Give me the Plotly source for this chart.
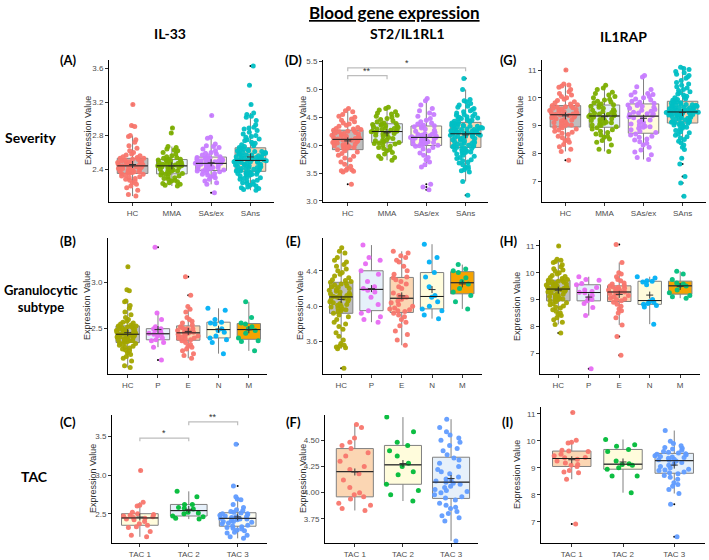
import numpy as np
import plotly.graph_objects as go

# The page body margin is removed (post_script below), so figure == window (709x560)
W, H = 709, 560


def fx(px):
    return px / W


def fy(py):
    return 1 - py / H


# ---------------- categories / colours ----------------
sev_cats = ["HC", "MMA", "SAs/ex", "SAns"]
gran_cats = ["HC", "P", "E", "N", "M"]
tac_cats = ["TAC 1", "TAC 2", "TAC 3"]

sev_colors = ["#F8766D", "#7CAE00", "#C77CFF", "#00BFC4"]
sev_fills = ["#BEBEBE", "#E6F0FA", "#FFFCDC", "#FBD6B3"]
gran_colors = ["#A3A500", "#E76BF3", "#F8766D", "#00B0F6", "#00BF7D"]
gran_fills = ["#BEBEBE", "#E6F0FA", "#FBD6B3", "#FFFCDC", "#F5A300"]
tac_colors = ["#F8766D", "#00BA38", "#619CFF"]
tac_fills_c = ["#FFFCDC", "#E6F0FA", "#FCFCF2"]
tac_fills = ["#FBD6B3", "#FFFCDC", "#E6F0FA"]

# ---------------- IL-33, severity ----------------
il33_hc = [3.17, 2.92, 2.91, 2.80, 2.79, 2.75, 2.72, 2.68, 2.65, 2.62, 2.60, 2.58, 2.57, 2.56, 2.55, 2.54, 2.53, 2.53,
           2.52, 2.52, 2.51, 2.50, 2.50, 2.49, 2.49, 2.48, 2.48, 2.47, 2.47, 2.46, 2.46, 2.45, 2.45, 2.45, 2.44, 2.44,
           2.43, 2.43, 2.42, 2.42, 2.41, 2.41, 2.40, 2.40, 2.39, 2.39, 2.38, 2.38, 2.37, 2.37, 2.36, 2.36, 2.35, 2.35,
           2.34, 2.33, 2.32, 2.31, 2.30, 2.29, 2.28, 2.27, 2.26, 2.24, 2.22, 2.20, 2.18, 2.15, 2.10, 2.08]
il33_mma = [2.89, 2.83, 2.67, 2.66, 2.64, 2.63, 2.62, 2.60, 2.58, 2.56, 2.55, 2.54, 2.53, 2.52, 2.52, 2.51, 2.51, 2.50,
            2.50, 2.49, 2.48, 2.48, 2.47, 2.47, 2.46, 2.46, 2.45, 2.45, 2.44, 2.44, 2.44, 2.43, 2.43, 2.42, 2.42, 2.41,
            2.40, 2.40, 2.39, 2.38, 2.38, 2.37, 2.36, 2.35, 2.35, 2.34, 2.33, 2.32, 2.31, 2.30, 2.29, 2.28, 2.27, 2.26,
            2.25, 2.24, 2.23, 2.22, 2.21, 2.20]
il33_sasex = [3.04, 2.78, 2.77, 2.70, 2.68, 2.67, 2.66, 2.64, 2.62, 2.60, 2.59, 2.58, 2.57, 2.56, 2.55, 2.54, 2.54, 2.53,
              2.53, 2.52, 2.52, 2.51, 2.51, 2.50, 2.50, 2.49, 2.49, 2.48, 2.48, 2.47, 2.47, 2.46, 2.46, 2.45, 2.45, 2.44,
              2.43, 2.43, 2.42, 2.42, 2.41, 2.40, 2.40, 2.39, 2.39, 2.38, 2.38, 2.37, 2.36, 2.35, 2.34, 2.33, 2.32, 2.31,
              2.30, 2.28, 2.26, 2.24, 2.22, 2.12]
il33_sans = [3.63, 3.40, 3.17, 3.07, 3.05, 3.03, 3.02, 2.98, 2.93, 2.90, 2.89, 2.88, 2.86, 2.84, 2.82, 2.80, 2.79, 2.78,
             2.76, 2.75, 2.74, 2.72, 2.71, 2.70, 2.69, 2.68, 2.67, 2.66, 2.65, 2.64, 2.63, 2.63, 2.62, 2.62, 2.61, 2.61,
             2.60, 2.60, 2.59, 2.59, 2.58, 2.58, 2.57, 2.57, 2.56, 2.56, 2.55, 2.55, 2.54, 2.54, 2.53, 2.53, 2.52, 2.52,
             2.51, 2.51, 2.50, 2.50, 2.50, 2.49, 2.49, 2.49, 2.48, 2.48, 2.47, 2.47, 2.46, 2.46, 2.45, 2.45, 2.44, 2.44,
             2.43, 2.43, 2.42, 2.42, 2.41, 2.41, 2.40, 2.40, 2.39, 2.39, 2.38, 2.38, 2.37, 2.37, 2.36, 2.36, 2.35, 2.35,
             2.34, 2.34, 2.33, 2.33, 2.32, 2.31, 2.30, 2.29, 2.28, 2.27, 2.26, 2.25, 2.24, 2.23, 2.22, 2.21, 2.20, 2.19,
             2.18, 2.17, 2.16, 2.15]

# ---------------- ST2/IL1RL1, severity ----------------
st2_hc = [4.66, 4.62, 4.60, 4.55, 4.52, 4.50, 4.47, 4.45, 4.42, 4.40, 4.38, 4.36, 4.34, 4.32, 4.30, 4.29, 4.28, 4.27,
          4.26, 4.25, 4.24, 4.23, 4.22, 4.21, 4.20, 4.19, 4.18, 4.17, 4.16, 4.15, 4.14, 4.13, 4.12, 4.12, 4.11, 4.10,
          4.09, 4.08, 4.07, 4.06, 4.05, 4.04, 4.03, 4.02, 4.01, 4.00, 3.99, 3.98, 3.97, 3.96, 3.95, 3.94, 3.92, 3.90,
          3.88, 3.85, 3.82, 3.80, 3.77, 3.74, 3.70, 3.66, 3.62, 3.58, 3.56, 3.55, 3.54, 3.53, 3.52, 3.30]
st2_mma = [4.68, 4.66, 4.63, 4.60, 4.58, 4.56, 4.54, 4.52, 4.50, 4.48, 4.46, 4.44, 4.42, 4.40, 4.39, 4.38, 4.37, 4.36,
           4.35, 4.34, 4.33, 4.32, 4.31, 4.30, 4.29, 4.28, 4.27, 4.26, 4.25, 4.25, 4.24, 4.23, 4.22, 4.21, 4.20, 4.19,
           4.18, 4.16, 4.14, 4.12, 4.10, 4.09, 4.08, 4.06, 4.05, 4.04, 4.03, 4.02, 4.00, 3.98, 3.96, 3.94, 3.92, 3.90,
           3.87, 3.84, 3.80, 3.78, 3.76, 3.73]
st2_sasex = [4.84, 4.80, 4.72, 4.66, 4.62, 4.58, 4.55, 4.52, 4.48, 4.45, 4.42, 4.40, 4.38, 4.36, 4.35, 4.34, 4.33, 4.31,
             4.29, 4.27, 4.25, 4.23, 4.21, 4.20, 4.19, 4.18, 4.17, 4.16, 4.15, 4.14, 4.14, 4.13, 4.12, 4.11, 4.10, 4.09,
             4.08, 4.07, 4.06, 4.05, 4.04, 4.03, 4.02, 4.01, 4.00, 3.99, 3.98, 3.96, 3.93, 3.90, 3.86, 3.82, 3.78, 3.74,
             3.70, 3.65, 3.61, 3.30, 3.25, 3.20]
st2_sans = [5.20, 5.00, 4.82, 4.80, 4.78, 4.75, 4.72, 4.70, 4.68, 4.66, 4.64, 4.62, 4.60, 4.58, 4.56, 4.55, 4.54, 4.52,
            4.51, 4.50, 4.49, 4.48, 4.47, 4.46, 4.45, 4.44, 4.43, 4.42, 4.41, 4.40, 4.39, 4.38, 4.37, 4.36, 4.36, 4.35,
            4.34, 4.34, 4.33, 4.32, 4.32, 4.31, 4.30, 4.30, 4.29, 4.28, 4.28, 4.27, 4.26, 4.26, 4.25, 4.24, 4.24, 4.23,
            4.22, 4.22, 4.21, 4.20, 4.20, 4.19, 4.18, 4.18, 4.17, 4.16, 4.16, 4.15, 4.14, 4.13, 4.12, 4.11, 4.10, 4.09,
            4.08, 4.07, 4.06, 4.05, 4.04, 4.03, 4.02, 4.01, 4.00, 3.99, 3.99, 3.98, 3.97, 3.96, 3.95, 3.94, 3.93, 3.92,
            3.91, 3.90, 3.89, 3.88, 3.87, 3.86, 3.84, 3.82, 3.80, 3.78, 3.76, 3.74, 3.72, 3.70, 3.68, 3.65, 3.62, 3.60,
            3.58, 3.56, 3.54, 3.52, 3.35, 3.10]
st2_sig_pairs = [(0, 1), (0, 3)]
st2_sig_y = [5.25, 5.39]
st2_sig_lbl = ["**", "*"]

# ---------------- IL1RAP, severity ----------------
rap_hc = [11.00, 10.50, 10.46, 10.42, 10.38, 10.30, 10.22, 10.15, 10.10, 10.05, 10.00, 9.95, 9.90, 9.86, 9.82, 9.78,
          9.75, 9.72, 9.70, 9.68, 9.66, 9.64, 9.62, 9.60, 9.58, 9.56, 9.54, 9.52, 9.50, 9.48, 9.46, 9.44, 9.43, 9.42,
          9.40, 9.38, 9.36, 9.34, 9.32, 9.30, 9.28, 9.25, 9.22, 9.20, 9.17, 9.14, 9.11, 9.08, 9.05, 9.02, 9.00, 8.98,
          8.95, 8.92, 8.88, 8.84, 8.80, 8.76, 8.72, 8.68, 8.62, 8.56, 8.50, 8.45, 8.40, 8.32, 8.24, 8.15, 8.07, 7.75]
rap_mma = [10.45, 10.35, 10.30, 10.20, 10.15, 10.10, 10.05, 10.00, 9.95, 9.92, 9.88, 9.85, 9.82, 9.78, 9.75, 9.73,
           9.70, 9.66, 9.62, 9.58, 9.55, 9.52, 9.50, 9.47, 9.44, 9.42, 9.40, 9.38, 9.38, 9.36, 9.33, 9.30, 9.28, 9.25,
           9.22, 9.20, 9.18, 9.15, 9.12, 9.10, 9.08, 9.05, 9.02, 9.00, 8.96, 8.92, 8.88, 8.85, 8.80, 8.75, 8.70, 8.66,
           8.62, 8.58, 8.52, 8.46, 8.40, 8.30, 8.15, 8.07]
rap_sasex = [10.80, 10.75, 10.40, 10.30, 10.20, 10.15, 10.12, 10.10, 10.05, 10.00, 9.96, 9.92, 9.88, 9.84, 9.80, 9.76,
             9.74, 9.72, 9.70, 9.66, 9.62, 9.58, 9.55, 9.52, 9.48, 9.45, 9.43, 9.42, 9.40, 9.36, 9.32, 9.28, 9.24, 9.20,
             9.15, 9.10, 9.06, 9.02, 8.98, 8.96, 8.94, 8.90, 8.85, 8.80, 8.75, 8.70, 8.66, 8.62, 8.58, 8.52, 8.48, 8.42,
             8.36, 8.30, 8.22, 8.12, 8.05, 7.95, 7.85, 7.78]
rap_sans = [11.10, 11.05, 11.02, 10.95, 10.90, 10.85, 10.80, 10.75, 10.70, 10.62, 10.55, 10.50, 10.45, 10.40, 10.35,
            10.30, 10.26, 10.22, 10.18, 10.14, 10.10, 10.06, 10.02, 10.00, 9.97, 9.94, 9.91, 9.88, 9.86, 9.84, 9.82,
            9.80, 9.78, 9.76, 9.75, 9.74, 9.73, 9.72, 9.70, 9.69, 9.68, 9.66, 9.65, 9.64, 9.62, 9.61, 9.60, 9.58, 9.57,
            9.56, 9.55, 9.54, 9.52, 9.51, 9.50, 9.49, 9.48, 9.48, 9.47, 9.46, 9.45, 9.44, 9.43, 9.42, 9.41, 9.40, 9.39,
            9.38, 9.36, 9.35, 9.34, 9.32, 9.30, 9.28, 9.26, 9.24, 9.22, 9.20, 9.18, 9.16, 9.14, 9.12, 9.10, 9.09, 9.08,
            9.06, 9.04, 9.02, 9.00, 8.97, 8.94, 8.90, 8.86, 8.82, 8.78, 8.74, 8.70, 8.65, 8.60, 8.55, 8.50, 8.44, 8.38,
            8.30, 8.22, 8.14, 7.82, 7.62, 7.17, 6.93, 6.46]

# ---------------- granulocytic subtype (HC shared with severity) ----------------
il33_p = [3.38, 2.67, 2.60, 2.52, 2.50, 2.50, 2.48, 2.46, 2.45, 2.44, 2.44, 2.42, 2.40, 2.38, 2.37, 2.35, 2.30, 2.16]
il33_e = [3.06, 2.86, 2.74, 2.71, 2.68, 2.62, 2.60, 2.58, 2.56, 2.54, 2.52, 2.51, 2.50, 2.50, 2.49, 2.48, 2.48, 2.47,
          2.46, 2.46, 2.45, 2.45, 2.44, 2.43, 2.42, 2.41, 2.40, 2.40, 2.39, 2.38, 2.37, 2.35, 2.33, 2.31, 2.30, 2.28,
          2.26, 2.23, 2.21, 2.18]
il33_n = [2.72, 2.70, 2.60, 2.57, 2.56, 2.55, 2.50, 2.48, 2.46, 2.42, 2.40, 2.38, 2.35, 2.23]
il33_m = [2.79, 2.62, 2.56, 2.55, 2.52, 2.50, 2.48, 2.45, 2.40, 2.37, 2.36, 2.26]

st2_p = [4.69, 4.55, 4.52, 4.48, 4.40, 4.36, 4.28, 4.22, 4.20, 4.18, 4.16, 4.10, 4.02, 3.95, 3.92, 3.88, 3.85, 3.82]
st2_e = [4.62, 4.60, 4.57, 4.55, 4.52, 4.50, 4.45, 4.40, 4.36, 4.33, 4.32, 4.30, 4.28, 4.25, 4.22, 4.20, 4.15, 4.12,
         4.10, 4.10, 4.08, 4.06, 4.04, 4.02, 4.00, 3.98, 3.97, 3.96, 3.95, 3.94, 3.92, 3.90, 3.88, 3.85, 3.82, 3.78,
         3.72, 3.68, 3.62, 3.56]
st2_n = [4.70, 4.55, 4.50, 4.38, 4.33, 4.22, 4.12, 4.10, 4.05, 4.00, 3.97, 3.95, 3.90, 3.86]
st2_m = [4.47, 4.42, 4.40, 4.38, 4.32, 4.28, 4.25, 4.20, 4.16, 4.12, 4.05, 3.97]

rap_p = [9.85, 9.75, 9.72, 9.60, 9.55, 9.45, 9.35, 9.30, 9.27, 9.25, 9.15, 9.05, 9.00, 8.95, 8.85, 8.70, 8.40, 6.42]
rap_e = [11.05, 10.38, 10.00, 9.95, 9.85, 9.75, 9.70, 9.62, 9.58, 9.52, 9.50, 9.48, 9.46, 9.42, 9.40, 9.38, 9.35, 9.32,
         9.30, 9.28, 9.28, 9.26, 9.22, 9.20, 9.15, 9.10, 9.05, 9.02, 9.00, 8.95, 8.90, 8.82, 8.75, 8.65, 8.58, 8.50,
         8.32, 8.05, 7.62, 6.92]
rap_n = [9.85, 9.80, 9.70, 9.68, 9.65, 9.55, 9.00, 8.92, 8.90, 8.85, 8.82, 8.78, 8.72, 8.08]
rap_m = [10.05, 9.95, 9.75, 9.62, 9.58, 9.52, 9.50, 9.35, 9.25, 9.15, 9.10, 9.05]

# ---------------- TAC ----------------
il33_tac1 = [3.06, 2.65, 2.61, 2.60, 2.52, 2.50, 2.49, 2.48, 2.47, 2.46, 2.45, 2.44, 2.43, 2.42, 2.40, 2.37, 2.35, 2.33,
             2.32, 2.27, 2.22, 2.20]
il33_tac2 = [2.79, 2.72, 2.62, 2.62, 2.58, 2.57, 2.56, 2.52, 2.51, 2.50, 2.47, 2.46, 2.44, 2.43]
il33_tac3 = [3.40, 2.86, 2.72, 2.69, 2.68, 2.62, 2.58, 2.55, 2.54, 2.53, 2.52, 2.51, 2.50, 2.50, 2.49, 2.48, 2.47, 2.46,
             2.46, 2.45, 2.45, 2.44, 2.44, 2.43, 2.43, 2.42, 2.41, 2.40, 2.40, 2.39, 2.38, 2.37, 2.35, 2.34, 2.33, 2.32,
             2.31, 2.30, 2.29, 2.28, 2.26, 2.25, 2.22, 2.20, 2.18]
il33_sig_pairs = [(0, 1), (1, 2)]
il33_sig_y = [3.48, 3.69]
il33_sig_lbl = ["*", "**"]

st2_tac1 = [4.65, 4.62, 4.52, 4.48, 4.45, 4.42, 4.38, 4.35, 4.30, 4.25, 4.22, 4.18, 4.12, 4.05, 4.00, 3.98, 3.96, 3.94,
            3.90, 3.88, 3.85, 3.83]
st2_tac2 = [4.72, 4.58, 4.48, 4.45, 4.40, 4.35, 4.28, 4.25, 4.20, 4.17, 4.08, 4.02, 3.98, 3.92]
st2_tac3 = [4.70, 4.62, 4.58, 4.55, 4.52, 4.50, 4.48, 4.45, 4.42, 4.40, 4.36, 4.33, 4.31, 4.28, 4.25, 4.22, 4.20, 4.18,
            4.15, 4.13, 4.12, 4.11, 4.10, 4.09, 4.08, 4.06, 4.05, 4.03, 4.02, 4.01, 4.00, 3.98, 3.96, 3.95, 3.93, 3.90,
            3.88, 3.86, 3.85, 3.82, 3.80, 3.78, 3.76, 3.73, 3.54]

rap_tac1 = [11.05, 10.02, 9.95, 9.92, 9.65, 9.62, 9.60, 9.50, 9.45, 9.38, 9.37, 9.32, 9.25, 9.18, 9.12, 9.10, 9.05, 8.90,
            8.85, 8.82, 8.58, 6.92]
rap_tac2 = [10.05, 9.85, 9.80, 9.68, 9.60, 9.25, 9.15, 9.12, 9.10, 9.00, 8.95, 8.70, 8.70, 8.08]
rap_tac3 = [10.38, 9.98, 9.90, 9.82, 9.75, 9.72, 9.70, 9.65, 9.60, 9.58, 9.55, 9.52, 9.50, 9.48, 9.45, 9.42, 9.40, 9.38,
            9.35, 9.32, 9.30, 9.28, 9.25, 9.20, 9.15, 9.10, 9.05, 9.00, 8.95, 8.92, 8.90, 8.85, 8.82, 8.78, 8.72, 8.65,
            8.58, 8.45, 8.38, 8.32, 8.20, 8.05, 7.65, 6.45]

# ---------------- panel layout (window-pixel boxes) ----------------
panels = [
    dict(letter="(A)", lpos=(68, 60), cats=sev_cats, colors=sev_colors, fills=sev_fills,
         data=[il33_hc, il33_mma, il33_sasex, il33_sans], px=(109, 274), py=(60, 202),
         xr=(-0.6, 3.6), yr=(2.01, 3.70), ticks=[2.4, 2.8, 3.2, 3.6], fmt=".1f", bw=0.78, pw=0.86, ytx=88, sig=None),
    dict(letter="(D)", lpos=(293, 60), cats=sev_cats, colors=sev_colors, fills=sev_fills,
         data=[st2_hc, st2_mma, st2_sasex, st2_sans], px=(323, 488), py=(60, 202),
         xr=(-0.63, 3.57), yr=(2.98, 5.53), ticks=[3.0, 3.5, 4.0, 4.5, 5.0, 5.5], fmt=".1f", bw=0.78, pw=0.86,
         ytx=303, sig=(st2_sig_pairs, st2_sig_y, st2_sig_lbl)),
    dict(letter="(G)", lpos=(508, 60), cats=sev_cats, colors=sev_colors, fills=sev_fills,
         data=[rap_hc, rap_mma, rap_sasex, rap_sans], px=(542, 706), py=(60, 202),
         xr=(-0.6, 3.6), yr=(6.25, 11.36), ticks=[7, 8, 9, 10, 11], fmt="d", bw=0.78, pw=0.86, ytx=520, sig=None),
    dict(letter="(B)", lpos=(68, 241), cats=gran_cats, colors=gran_colors, fills=gran_fills,
         data=[il33_hc, il33_p, il33_e, il33_n, il33_m], px=(108, 267), py=(238, 374),
         xr=(-0.65, 4.6), yr=(2.01, 3.48), ticks=[2.5, 3.0], fmt=".1f", bw=0.77, pw=0.84, ytx=87, sig=None),
    dict(letter="(E)", lpos=(293, 241), cats=gran_cats, colors=gran_colors, fills=gran_fills,
         data=[st2_hc, st2_p, st2_e, st2_n, st2_m], px=(323, 482), py=(238, 374),
         xr=(-0.6, 4.65), yr=(3.235, 4.77), ticks=[3.6, 4.0, 4.4], fmt=".1f", bw=0.77, pw=0.84, ytx=300, sig=None),
    dict(letter="(H)", lpos=(509, 241), cats=gran_cats, colors=gran_colors, fills=gran_fills,
         data=[rap_hc, rap_p, rap_e, rap_n, rap_m], px=(540, 700), py=(240, 374),
         xr=(-0.6, 4.65), yr=(6.22, 11.22), ticks=[7, 8, 9, 10, 11], fmt="d", bw=0.77, pw=0.84, ytx=517, sig=None),
    dict(letter="(C)", lpos=(68, 422), cats=tac_cats, colors=tac_colors, fills=tac_fills_c,
         data=[il33_tac1, il33_tac2, il33_tac3], px=(112, 267), py=(415, 543),
         xr=(-0.57, 2.6), yr=(2.12, 3.78), ticks=[2.5, 3.0, 3.5], fmt=".1f", bw=0.75, pw=0.84, ytx=93,
         sig=(il33_sig_pairs, il33_sig_y, il33_sig_lbl)),
    dict(letter="(F)", lpos=(293, 422), cats=tac_cats, colors=tac_colors, fills=tac_fills,
         data=[st2_tac1, st2_tac2, st2_tac3], px=(325, 478), py=(415, 543),
         xr=(-0.62, 2.56), yr=(3.52, 4.74), ticks=[3.75, 4.0, 4.25, 4.5], fmt=".2f", bw=0.77, pw=0.84, ytx=303,
         sig=None),
    dict(letter="(I)", lpos=(507, 422), cats=tac_cats, colors=tac_colors, fills=tac_fills,
         data=[rap_tac1, rap_tac2, rap_tac3], px=(541, 705), py=(407, 543),
         xr=(-0.6, 2.6), yr=(6.22, 11.25), ticks=[7, 8, 9, 10, 11], fmt="d", bw=0.75, pw=0.84, ytx=517, sig=None),
]

TICKFONT = dict(family="Liberation Sans, Arial, sans-serif", size=8, color="#4D4D4D")
HEADFONT = "Lato, Noto Sans, sans-serif"

fig = go.Figure()
annotations = []
layout_axes = {}

for k, p in enumerate(panels, start=1):
    sfx = "" if k == 1 else str(k)
    xa, ya = "x" + sfx, "y" + sfx
    for i, vals in enumerate(p["data"]):
        v = np.asarray(vals, dtype=float)
        # box with outliers (small black dots)
        fig.add_trace(go.Box(
            x0=i, y=v, width=p["bw"], fillcolor=p["fills"][i],
            line=dict(color="#808080", width=1), whiskerwidth=0,
            boxpoints="outliers", jitter=0, pointpos=0,
            marker=dict(color="black", size=2, line=dict(width=0)),
            xaxis=xa, yaxis=ya, showlegend=False, hoverinfo="skip"))
        # jittered raw points
        fig.add_trace(go.Box(
            x0=i, y=v, width=p["pw"], fillcolor="rgba(0,0,0,0)",
            line=dict(color="rgba(0,0,0,0)", width=0), whiskerwidth=0,
            boxpoints="all", jitter=1, pointpos=0,
            marker=dict(color=p["colors"][i], size=5, opacity=0.95, line=dict(width=0)),
            xaxis=xa, yaxis=ya, showlegend=False, hoverinfo="y"))
        med = float(np.median(v))
        fig.add_trace(go.Scatter(
            x=[i - p["bw"] / 2, i + p["bw"] / 2], y=[med, med], mode="lines",
            line=dict(color="#1A1A1A", width=1), xaxis=xa, yaxis=ya, showlegend=False, hoverinfo="skip"))
        fig.add_trace(go.Scatter(
            x=[i], y=[float(np.mean(v))], mode="markers",
            marker=dict(symbol="cross-thin", size=5, line=dict(color="#333333", width=1)),
            xaxis=xa, yaxis=ya, showlegend=False, hoverinfo="skip"))

    if p["sig"]:
        pairs, ys, lbls = p["sig"]
        tip = 0.025 * (p["yr"][1] - p["yr"][0])
        for (a, b), yv, lb in zip(pairs, ys, lbls):
            fig.add_trace(go.Scatter(
                x=[a, a, b, b], y=[yv - tip, yv, yv, yv - tip], mode="lines",
                line=dict(color="#BDBDBD", width=1.2), xaxis=xa, yaxis=ya, showlegend=False, hoverinfo="skip"))
            annotations.append(dict(x=(a + b) / 2, y=yv, xref=xa, yref=ya, text=lb, showarrow=False,
                                    xanchor="center", yanchor="bottom", yshift=-2,
                                    font=dict(family="Liberation Sans", size=9, color="#333")))

    x0, x1 = p["px"]
    y0, y1 = p["py"]
    common = dict(showline=True, linecolor="black", linewidth=1, ticks="outside", ticklen=3, tickcolor="#333",
                  tickfont=TICKFONT, showgrid=False, zeroline=False, fixedrange=True, automargin=False,
                  mirror=False)
    layout_axes["xaxis" + sfx] = dict(
        domain=[fx(x0), fx(x1)], anchor=ya, range=list(p["xr"]),
        tickmode="array", tickvals=list(range(len(p["cats"]))), ticktext=p["cats"], **common)
    layout_axes["yaxis" + sfx] = dict(
        domain=[fy(y1), fy(y0)], anchor=xa, range=list(p["yr"]),
        tickmode="array", tickvals=p["ticks"], tickformat=p["fmt"], **common)

    # panel letter
    annotations.append(dict(x=fx(p["lpos"][0]), y=fy(p["lpos"][1]), xref="paper", yref="paper",
                            xanchor="center", yanchor="middle",
                            text="<b>" + p["letter"] + "</b>", showarrow=False,
                            font=dict(family=HEADFONT, size=13, color="black")))
    # y axis title
    annotations.append(dict(x=fx(p["ytx"]), y=fy((y0 + y1) / 2), xref="paper", yref="paper",
                            xanchor="center", yanchor="middle",
                            text="Expression Value", showarrow=False, textangle=-90,
                            font=dict(family="Liberation Sans, Arial, sans-serif", size=9, color="#333")))

# headers
annotations.append(dict(x=fx(394), y=fy(12), xref="paper", yref="paper", showarrow=False,
                        xanchor="center", yanchor="middle",
                        text="<b>Blood gene expression</b>",
                        font=dict(family=HEADFONT, size=17, color="black", lineposition="under")))
for txt, cx, cy in [("IL-33", 170, 33), ("ST2/IL1RL1", 407, 33), ("IL1RAP", 623, 37)]:
    annotations.append(dict(x=fx(cx), y=fy(cy), xref="paper", yref="paper", showarrow=False,
                            xanchor="center", yanchor="middle",
                            text="<b>" + txt + "</b>", font=dict(family=HEADFONT, size=14, color="black")))
for txt, cx, cy, fs in [("Severity", 31, 137, 14), ("Granulocytic<br>subtype", 41, 298, 13), ("TAC", 34, 476, 14)]:
    annotations.append(dict(x=fx(cx), y=fy(cy), xref="paper", yref="paper", showarrow=False,
                            xanchor="center", yanchor="middle",
                            text="<b>" + txt + "</b>", align="center",
                            font=dict(family=HEADFONT, size=fs, color="black")))

fig.update_layout(
    template="none",
    width=W, height=H, margin=dict(l=0, r=0, t=0, b=0, pad=0),
    paper_bgcolor="white", plot_bgcolor="white", showlegend=False,
    boxmode="overlay", annotations=annotations, **layout_axes)

fig.write_html("out.html", config={"displayModeBar": False},
               post_script="document.body.style.margin='0px';")
